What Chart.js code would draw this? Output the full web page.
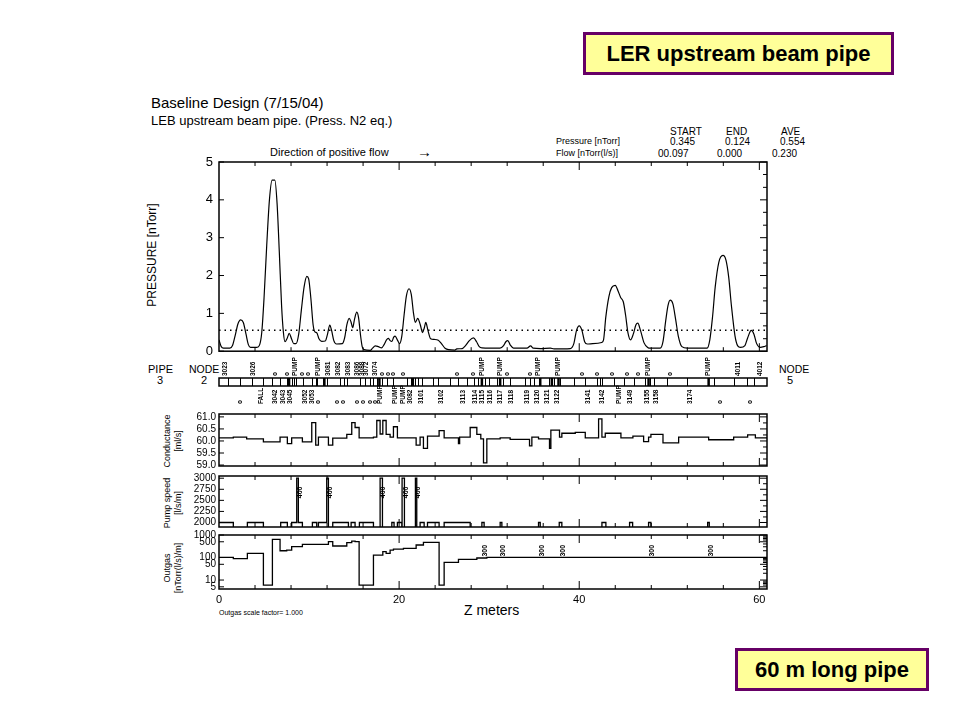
<!DOCTYPE html>
<html>
<head>
<meta charset="utf-8">
<title>LER upstream beam pipe</title>
<script src="https://cdn.jsdelivr.net/npm/chart.js@4.4.1/dist/chart.umd.min.js"></script>
<style>
  body { margin: 0; background: #fff; }
  #page { position: relative; width: 960px; height: 720px; overflow: hidden; font-family: "Liberation Sans", Arial, sans-serif; color: #000; }
  canvas { position: absolute; left: 0; }
  .t { position: absolute; white-space: nowrap; line-height: 1; }
  .c { transform: translateX(-50%); }
  .r { position: absolute; white-space: nowrap; line-height: 1; transform: translate(-50%, -50%) rotate(-90deg); }
  .box { position: absolute; box-sizing: border-box; background: #ffff99; border: 3px solid #660066;
         font: bold 22px "Liberation Sans", Arial, sans-serif; display: flex; align-items: center; justify-content: center; }
</style>
</head>
<body>
<div id="page">
  <div class="box" style="left:583px;top:32px;width:311px;height:43px">LER upstream beam pipe</div>
  <div class="box" style="left:735px;top:648px;width:194px;height:43px">60 m long pipe</div>

  <div class="t" style="left:151px;top:95px;font-size:15px">Baseline Design (7/15/04)</div>
  <div class="t" style="left:151px;top:114px;font-size:13px">LEB upstream beam pipe. (Press. N2 eq.)</div>
  <div class="t" style="left:270px;top:147px;font-size:11px">Direction of positive flow</div>
  <div class="t" style="left:417px;top:144px;font-size:15px">→</div>

  <div class="t" style="left:670px;top:127px;font-size:10px">START</div>
  <div class="t" style="left:726px;top:127px;font-size:10px">END</div>
  <div class="t" style="left:781px;top:127px;font-size:10px">AVE</div>
  <div class="t" style="left:556px;top:137px;font-size:9px">Pressure [nTorr]</div>
  <div class="t" style="left:670px;top:137px;font-size:10px">0.345</div>
  <div class="t" style="left:725px;top:137px;font-size:10px">0.124</div>
  <div class="t" style="left:780px;top:137px;font-size:10px">0.554</div>
  <div class="t" style="left:556px;top:149px;font-size:9px">Flow [nTorr(l/s)]</div>
  <div class="t" style="left:658px;top:149px;font-size:10px">00.097</div>
  <div class="t" style="left:717px;top:149px;font-size:10px">0.000</div>
  <div class="t" style="left:772px;top:149px;font-size:10px">0.230</div>

  <div class="r" style="left:152px;top:255px;font-size:12px">PRESSURE [nTorr]</div>

  <div class="t" style="left:148px;top:364px;font-size:11px">PIPE</div>
  <div class="t c" style="left:160px;top:375px;font-size:11px">3</div>
  <div class="t" style="left:189px;top:364px;font-size:10.5px">NODE</div>
  <div class="t c" style="left:204px;top:375px;font-size:11px">2</div>
  <div class="t" style="left:779px;top:364px;font-size:10.5px">NODE</div>
  <div class="t c" style="left:790px;top:375px;font-size:11px">5</div>

  <div class="r" style="left:167px;top:441px;font-size:9px">Conductance</div>
  <div class="r" style="left:178px;top:441px;font-size:9px">[ml/s]</div>
  <div class="r" style="left:167px;top:503px;font-size:9px">Pump speed</div>
  <div class="r" style="left:178px;top:503px;font-size:9px">[l/s/m]</div>
  <div class="r" style="left:167px;top:568px;font-size:9px">Outgas</div>
  <div class="r" style="left:178px;top:568px;font-size:9px">[nTorr(l/s)/m]</div>

  <div class="t" style="left:464px;top:603px;font-size:14px">Z meters</div>
  <div class="t" style="left:219px;top:609px;font-size:7px">Outgas scale factor= 1.000</div>

  <canvas id="cMain" width="960" height="220" style="top:145px"></canvas>
  <canvas id="cStrip" width="960" height="60" style="top:355px"></canvas>
  <canvas id="cCond" width="960" height="75" style="top:400px"></canvas>
  <canvas id="cPump" width="960" height="70" style="top:466px"></canvas>
  <canvas id="cGas" width="960" height="96" style="top:524px"></canvas>
</div>

<script>
// position along the pipe, metres
const zMax = 60.85;
const zTickLabels = [0, 20, 40, 60];
const zMajor = [20, 40, 60];
const zMinor = [4, 8, 12, 16, 24, 28, 32, 36, 44, 48, 52, 56];

// pressure profile [nTorr]
const zP = [
  0.0, 0.25, 0.5, 1.2, 1.5, 1.8, 2.1, 2.4, 2.7, 3.0,
  3.25, 3.5, 4.2, 4.5, 4.75, 5.0, 5.3, 5.6, 5.9, 6.2,
  6.45, 6.7, 6.95, 7.15, 7.33, 7.55, 7.8, 8.05, 8.3, 8.55,
  8.85, 9.15, 9.45, 9.75, 9.95, 10.2, 10.45, 10.65, 10.85, 11.1,
  11.4, 11.8, 12.05, 12.3, 12.5, 12.75, 13.05, 13.7, 13.95, 14.2,
  14.45, 14.65, 14.85, 15.05, 15.3, 15.5, 15.7, 15.9, 16.1, 16.8,
  17.05, 17.35, 17.7, 18.05, 18.35, 18.6, 18.8, 19.0, 19.2, 19.4,
  19.56, 19.8, 20.05, 20.3, 20.55, 20.8, 21.1, 21.35, 21.6, 21.8,
  22.07, 22.35, 22.6, 22.8, 22.96, 23.2, 23.5, 23.9, 24.35, 24.7,
  25.1, 25.5, 26.2, 26.4, 27.0, 27.35, 27.8, 28.26, 28.6, 28.9,
  29.2, 31.2, 31.6, 31.85, 32.07, 32.35, 32.7, 34.2, 34.6, 34.9,
  35.7, 36.8, 37.2, 39.0, 39.4, 39.7, 40.0, 40.3, 40.6, 40.9,
  41.5, 42.5, 42.7, 42.95, 43.3, 43.6, 44.0, 44.3, 44.6, 44.9,
  45.15, 45.4, 45.7, 46.0, 46.3, 46.5, 46.8, 47.2, 47.6, 47.9,
  49.0, 49.3, 49.6, 49.85, 50.1, 50.4, 50.7, 51.0, 51.4, 52.0,
  54.2, 54.5, 54.8, 55.1, 55.5, 55.96, 56.3, 56.6, 56.9, 57.3,
  57.6, 57.9, 58.4, 58.7, 59.1, 59.4, 59.7, 60.1, 60.5, 60.8
];
const pP = [
  0.30, 0.12, 0.08, 0.08, 0.15, 0.42, 0.72, 0.83, 0.76, 0.45,
  0.18, 0.10, 0.10, 0.16, 0.50, 1.40, 2.80, 4.00, 4.52, 4.52,
  3.90, 2.60, 1.20, 0.50, 0.25, 0.33, 0.47, 0.33, 0.20, 0.20,
  0.45, 1.10, 1.70, 1.98, 1.92, 1.40, 0.70, 0.51, 0.49, 0.33,
  0.26, 0.27, 0.45, 0.69, 0.55, 0.28, 0.19, 0.20, 0.35, 0.70,
  0.87, 0.78, 0.62, 0.85, 1.03, 0.88, 0.45, 0.12, 0.04, 0.02,
  0.08, 0.14, 0.12, 0.09, 0.18, 0.30, 0.34, 0.28, 0.26, 0.37,
  0.40, 0.30, 0.20, 0.40, 0.95, 1.45, 1.65, 1.50, 1.00, 0.76,
  0.87, 0.70, 0.49, 0.62, 0.76, 0.55, 0.33, 0.31, 0.29, 0.20,
  0.08, 0.04, 0.03, 0.06, 0.07, 0.14, 0.28, 0.35, 0.25, 0.12,
  0.09, 0.08, 0.15, 0.25, 0.28, 0.16, 0.08, 0.08, 0.14, 0.08,
  0.07, 0.08, 0.06, 0.07, 0.20, 0.55, 0.67, 0.55, 0.25, 0.19,
  0.20, 0.23, 0.30, 0.90, 1.45, 1.68, 1.74, 1.60, 1.42, 1.30,
  0.95, 0.50, 0.30, 0.45, 0.70, 0.74, 0.55, 0.22, 0.10, 0.08,
  0.08, 0.25, 0.80, 1.20, 1.35, 1.25, 0.85, 0.40, 0.12, 0.08,
  0.08, 0.30, 0.90, 1.70, 2.35, 2.53, 2.40, 1.95, 1.20, 0.40,
  0.14, 0.10, 0.15, 0.35, 0.55, 0.45, 0.20, 0.10, 0.12, 0.15
];
const pAve = 0.554;
const pTicks = [0, 1, 2, 3, 4, 5];
const pMinor = [0.33, 0.67, 1.33, 1.67, 2.33, 2.67, 3.33, 3.67, 4.33, 4.67];

// pipe / node strip
const stripDivZ = [1.04, 2.33, 3.63, 4.93, 5.85, 6.78, 7.52, 8.07, 8.33, 8.56, 9.37, 10.3, 10.74, 10.93,
  11.52, 11.96, 13.44, 13.89, 14.19, 15.67, 16.22, 16.78, 17.15, 17.52, 18.07, 18.63, 19.37, 20.85,
  21.3, 21.78, 22.15, 22.52, 23.81, 24.37, 25.67, 26.59, 27.52, 28.26, 28.81, 29.56, 29.93, 30.85,
  31.59, 32.33, 34.0, 34.56, 35.0, 36.59, 37.22, 37.89, 39.37, 40.67, 41.96, 42.26, 42.52, 43.81,
  44.93, 46.04, 47.33, 47.89, 48.26, 49.74, 51.96, 54.93, 57.15, 58.63, 59.37];
const stripPumpZ = [7.78, 11.7, 17.81, 21.52, 29.19, 31.22, 35.67, 36.96, 37.7, 47.7, 54.37];
const topLabZ = [0.67, 3.78, 6.22, 7.56, 8.44, 9.22, 9.89, 11.0, 12.1, 13.2, 14.3, 15.3, 15.9, 16.4, 17.3,
  18.1, 18.8, 19.3, 20.5, 26.5, 28.22, 29.19, 31.22, 31.97, 34.56, 35.44, 37.67, 40.3, 41.97, 43.63,
  45.3, 46.59, 47.7, 50.1, 54.37, 57.7, 60.1];
const topLabText = ['3023', '3026', 'o', 'o', 'PUMP', 'o', 'o', 'PUMP', '3081', '3082', '3083', '3086', '3088', '3072', '3074',
  'o', 'o', 'o', 'o', 'o', 'o', 'PUMP', 'PUMP', 'o', 'o', 'PUMP', 'PUMP', 'o', 'o', 'o',
  'o', 'o', 'PUMP', 'o', 'PUMP', '4011', '4012'];
const botLabZ = [2.33, 4.74, 6.22, 7.1, 7.9, 9.56, 10.3, 11.0, 13.1, 13.8, 15.3, 16.0, 16.8, 17.3, 17.9,
  19.6, 20.5, 21.2, 22.5, 24.7, 27.1, 28.4, 29.2, 30.1, 31.2, 32.5, 34.2, 35.3, 36.4, 37.5,
  41.0, 42.5, 44.4, 45.7, 47.5, 48.6, 52.3, 55.7, 59.0];
const botLabText = ['o', 'FALL', '3042', '3043', '3045', '3052', '3053', 'o', 'o', 'o', 'o', 'o', 'o', 'o', 'PUMP',
  'PUMP', 'PUMP', '3082', '3101', '3102', '3113', '3114', '3115', '3116', '3117', '3118', '3119', '3120', '3121', '3122',
  '3141', '3142', 'PUMP', '3149', '3155', '3158', '3174', 'o', 'o'];

// conductance (step values, each holds until the next z)
const zCond = [0, 1.59, 3.07, 4.93, 6.78, 7.59, 8.07, 9.26, 10.3, 10.74, 11.04, 12.15, 12.63, 14.19, 14.74,
  15.11, 15.56, 17.15, 17.52, 17.89, 18.19, 18.56, 19.0, 19.37, 19.81, 21.89, 22.33, 22.7, 23.15, 24.44,
  25.0, 26.59, 26.72, 27.89, 28.63, 29.07, 29.37, 29.74, 31.22, 32.33, 34.48, 34.74, 35.48, 36.7, 36.85,
  37.81, 38.07, 39.56, 40.67, 42.15, 42.52, 42.89, 44.63, 45.96, 47.15, 47.7, 47.96, 49.3, 51.04, 54.37,
  57.15, 58.7, 59.56, 60.85];
const vCond = [60.13, 60.16, 60.09, 59.96, 60.16, 59.89, 60.13, 59.96, 60.76, 59.83, 60.16, 59.83, 60.12, 60.27, 60.76,
  60.56, 60.13, 60.16, 60.85, 60.29, 60.85, 60.27, 60.16, 60.59, 60.13, 59.83, 60.16, 59.69, 60.2, 60.43,
  60.13, 59.89, 60.16, 60.56, 60.27, 60.09, 59.09, 60.09, 60.13, 60.07, 59.8, 60.16, 60.09, 59.69, 60.45,
  60.16, 60.32, 60.36, 60.13, 60.92, 60.16, 60.32, 60.13, 60.2, 59.97, 60.16, 60.27, 59.92, 60.16, 60.05,
  60.16, 60.25, 60.13, 60.13];
const condTicks = [59.0, 59.5, 60.0, 60.5, 61.0];
const condMinor = [59.25, 59.75, 60.25, 60.75];

// pump speed
const zPump = [0, 1.59, 3.15, 4.93, 6.85, 7.59, 8.07, 8.63, 8.81, 9.26, 10.37, 10.85, 11.04, 11.96, 12.15,
  12.63, 14.37, 14.67, 15.11, 15.59, 17.15, 17.89, 18.15, 19.19, 19.44, 19.81, 20.3, 20.33, 20.59, 21.81,
  21.96, 22.33, 22.78, 23.15, 24.44, 25.0, 27.89, 29.19, 29.44, 31.22, 31.41, 35.48, 35.67, 37.78, 38.07,
  42.52, 42.96, 45.59, 45.93, 47.7, 47.96, 54.26, 54.44, 60.85];
const vPump = [2000, 0, 2000, 0, 2000, 0, 2000, 3000, 2000, 0, 2000, 0, 2000, 3000, 0,
  2000, 0, 2000, 0, 2000, 0, 3000, 0, 2000, 0, 2000, 0, 3000, 0, 3000,
  0, 2000, 0, 2000, 0, 2000, 0, 2000, 0, 2000, 0, 2000, 0, 2000, 0,
  2000, 0, 2000, 0, 2000, 0, 2000, 0, 0];
const pumpTicks = [2000, 2250, 2500, 2750, 3000];
const pumpMinor = [2125, 2375, 2625, 2875];
const pumpTagZ = [9.0, 12.33, 18.26, 20.74, 22.15];
const pumpTagText = ['400', '400', '400', '400', '400'];

// outgassing
const zGas = [0, 1.59, 3.15, 4.93, 5.93, 6.78, 7.52, 8.07, 9.26, 12.15, 12.63, 14.19, 14.74, 15.11, 15.56,
  17.15, 18.19, 18.56, 19.0, 19.37, 20.48, 21.89, 22.7, 24.44, 25.0, 26.59, 28.63, 29.74, 60.85];
const vGas = [102, 89, 153, 6, 640, 200, 215, 302, 385, 505, 324, 455, 540, 505, 6,
  129, 182, 153, 215, 238, 256, 360, 472, 6, 61, 83, 95, 102, 102];
const gasTicks = [5, 10, 50, 100, 500, 1000];
const gasMinor = [6, 7, 8, 9, 20, 30, 40, 60, 70, 80, 90, 200, 300, 400, 600, 700, 800, 900];
const gasTagZ = [29.56, 31.59, 35.86, 38.26, 48.08, 54.63];
const gasTagText = ['300', '300', '300', '300', '300', '300'];

const FONT = '"Liberation Sans", Arial, sans-serif';
Chart.defaults.font.family = FONT;
Chart.defaults.color = '#000';

const toXY = (xs, ys) => xs.map((x, i) => ({ x: x, y: ys[i] }));

// box round the plot area and inward tick marks
const framePlugin = {
  id: 'frame',
  afterDatasetsDraw(chart, args, o) {
    const { ctx, chartArea: a } = chart;
    const xs = chart.scales.x, ys = chart.scales.y;
    ctx.save();
    ctx.strokeStyle = '#000';
    ctx.lineWidth = 1;
    ctx.beginPath();
    const hTick = (v, len) => {
      const px = xs.getPixelForValue(v);
      ctx.moveTo(px, a.top); ctx.lineTo(px, a.top + len);
      ctx.moveTo(px, a.bottom); ctx.lineTo(px, a.bottom - len);
    };
    const vTick = (v, len, left) => {
      const py = ys.getPixelForValue(v);
      if (left) { ctx.moveTo(a.left, py); ctx.lineTo(a.left + len, py); }
      else { ctx.moveTo(a.right, py); ctx.lineTo(a.right - len, py); }
    };
    (o.xMinor || []).forEach(v => hTick(v, 4));
    (o.xMajor || []).forEach(v => hTick(v, 8));
    (o.yLeft || []).forEach(v => vTick(v, 5, true));
    (o.yRight || []).forEach(v => vTick(v, 7, false));
    (o.yRightMinor || []).forEach(v => vTick(v, 4, false));
    ctx.stroke();
    ctx.lineWidth = 1.5;
    ctx.strokeRect(a.left, a.top, a.right - a.left, a.bottom - a.top);
    ctx.restore();
  }
};

// small rotated labels next to pumps
const tagPlugin = {
  id: 'tags',
  afterDatasetsDraw(chart, args, o) {
    if (!o.z) return;
    const { ctx } = chart;
    const xs = chart.scales.x, ys = chart.scales.y;
    ctx.save();
    ctx.fillStyle = '#000';
    ctx.font = 'bold 7px ' + FONT;
    ctx.textAlign = 'center';
    ctx.textBaseline = 'middle';
    o.z.forEach((z, i) => {
      ctx.save();
      ctx.translate(xs.getPixelForValue(z), ys.getPixelForValue(o.at));
      ctx.rotate(-Math.PI / 2);
      ctx.fillText(o.text[i], 0, 0);
      ctx.restore();
    });
    ctx.restore();
  }
};

// element dividers and names along the pipe
const stripPlugin = {
  id: 'strip',
  afterDatasetsDraw(chart) {
    const { ctx, chartArea: a } = chart;
    const xs = chart.scales.x;
    ctx.save();
    ctx.strokeStyle = '#000';
    ctx.lineWidth = 1;
    ctx.beginPath();
    stripDivZ.forEach(z => {
      const px = Math.round(xs.getPixelForValue(z)) + 0.5;
      ctx.moveTo(px, a.top); ctx.lineTo(px, a.bottom);
    });
    ctx.stroke();
    ctx.lineWidth = 2.5;
    ctx.beginPath();
    stripPumpZ.forEach(z => {
      const px = xs.getPixelForValue(z);
      ctx.moveTo(px, a.top); ctx.lineTo(px, a.bottom);
    });
    ctx.stroke();

    ctx.fillStyle = '#000';
    ctx.font = 'bold 6.5px ' + FONT;
    ctx.textAlign = 'left';
    ctx.textBaseline = 'middle';
    const put = (z, txt, y) => {
      ctx.save();
      ctx.translate(xs.getPixelForValue(z), y);
      ctx.rotate(-Math.PI / 2);
      ctx.fillText(txt, 0, 0);
      ctx.restore();
    };
    topLabZ.forEach((z, i) => put(z, topLabText[i], a.top - 2));
    botLabZ.forEach((z, i) => put(z, botLabText[i], a.bottom + 18));
    ctx.restore();
  }
};

function xAxis(show) {
  const axis = {
    type: 'linear', min: 0, max: zMax, display: show,
    grid: { display: false, drawTicks: false },
    border: { display: false },
    afterBuildTicks: (s) => { s.ticks = zTickLabels.map(v => ({ value: v })); },
    ticks: { padding: 4, font: { size: 11 }, maxRotation: 0, autoSkip: false }
  };
  if (show) axis.afterFit = (s) => { s.height = 20; };
  return axis;
}

function yAxis(type, min, max, tickVals, fmt, size, pad) {
  return {
    type: type, min: min, max: max,
    grid: { display: false, drawTicks: false },
    border: { display: false },
    afterBuildTicks: (s) => { s.ticks = tickVals.map(v => ({ value: v })); },
    afterFit: (s) => { s.width = 219; },
    ticks: { padding: pad, font: { size: size }, autoSkip: false, callback: fmt }
  };
}

function baseOptions(pad, scales, plugins) {
  return {
    responsive: false,
    animation: false,
    events: [],
    layout: { padding: pad },
    scales: scales,
    plugins: Object.assign({ legend: { display: false }, tooltip: { enabled: false } }, plugins)
  };
}

const lineStyle = { borderColor: '#000', borderWidth: 1.3, pointRadius: 0, fill: false };

// pressure
new Chart(document.getElementById('cMain'), {
  type: 'line',
  data: {
    datasets: [
      Object.assign({ data: toXY(zP, pP), cubicInterpolationMode: 'monotone' }, lineStyle, { borderWidth: 1.2 }),
      Object.assign({ data: toXY([0, zMax], [pAve, pAve]), borderDash: [1.5, 4] }, lineStyle)
    ]
  },
  options: baseOptions({ left: 0, right: 193, top: 17, bottom: 10 }, {
    x: xAxis(false),
    y: yAxis('linear', 0, 5, pTicks, v => String(v), 13, 6)
  }, {
    frame: { xMinor: zMinor, xMajor: zMajor, yLeft: pTicks, yRight: pTicks, yRightMinor: pMinor }
  }),
  plugins: [framePlugin]
});

// pipe / node strip
new Chart(document.getElementById('cStrip'), {
  type: 'scatter',
  data: { datasets: [] },
  options: baseOptions({ left: 219, right: 193, top: 23, bottom: 29 }, {
    x: xAxis(false),
    y: { type: 'linear', min: 0, max: 1, display: false }
  }, { frame: {} }),
  plugins: [framePlugin, stripPlugin]
});

// conductance
new Chart(document.getElementById('cCond'), {
  type: 'line',
  data: { datasets: [Object.assign({ data: toXY(zCond, vCond), stepped: true }, lineStyle)] },
  options: baseOptions({ left: 0, right: 193, top: 14, bottom: 7 }, {
    x: xAxis(false),
    y: yAxis('linear', 58.96, 61.12, condTicks, v => v.toFixed(1), 10, 3)
  }, {
    frame: { xMinor: zMinor, xMajor: zMajor, yLeft: condTicks, yRight: condTicks, yRightMinor: condMinor }
  }),
  plugins: [framePlugin]
});

// pump speed
new Chart(document.getElementById('cPump'), {
  type: 'line',
  data: { datasets: [Object.assign({ data: toXY(zPump, vPump), stepped: true }, lineStyle)] },
  options: baseOptions({ left: 0, right: 193, top: 10, bottom: 7 }, {
    x: xAxis(false),
    y: yAxis('linear', 1898, 3050, pumpTicks, v => String(v), 10, 3)
  }, {
    frame: { xMinor: zMinor, xMajor: zMajor, yLeft: pumpTicks, yRight: pumpTicks, yRightMinor: pumpMinor },
    tags: { z: pumpTagZ, text: pumpTagText, at: 2680 }
  }),
  plugins: [framePlugin, tagPlugin]
});

// outgassing
new Chart(document.getElementById('cGas'), {
  type: 'line',
  data: { datasets: [Object.assign({ data: toXY(zGas, vGas), stepped: true }, lineStyle)] },
  options: baseOptions({ left: 0, right: 193, top: 11, bottom: 11 }, {
    x: xAxis(true),
    y: yAxis('logarithmic', 4, 1000, gasTicks, v => String(v), 10, 3)
  }, {
    frame: { xMinor: zMinor, xMajor: zMajor, yLeft: gasTicks, yRight: gasTicks, yRightMinor: gasMinor },
    tags: { z: gasTagZ, text: gasTagText, at: 200 }
  }),
  plugins: [framePlugin, tagPlugin]
});
</script>
</body>
</html>
